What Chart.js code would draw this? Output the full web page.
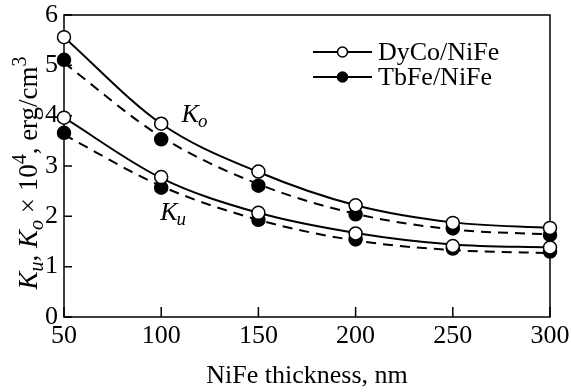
<!DOCTYPE html>
<html><head><meta charset="utf-8">
<script src="https://cdn.jsdelivr.net/npm/chart.js@4/dist/chart.umd.min.js"></script>
<style>html,body{margin:0;padding:0;background:#fff}#wrap{width:571px;height:392px;position:relative}canvas{display:block}</style>
</head><body><div id="wrap"><canvas id="c" width="571" height="392"></canvas></div>
<script>
// ---- data ----
const thickness = [50, 100, 150, 200, 250, 300];
const dyCoKo = [5.56, 3.84, 2.89, 2.22, 1.87, 1.77];
const tbFeKo = [5.11, 3.53, 2.61, 2.04, 1.76, 1.63];
const dyCoKu = [3.96, 2.78, 2.07, 1.66, 1.41, 1.38];
const tbFeKu = [3.66, 2.57, 1.93, 1.54, 1.36, 1.30];
// fitted curves (read at the same thicknesses)
const dyCoKoFit = [5.56, 3.84, 2.88, 2.22, 1.88, 1.77];
const tbFeKoFit = [5.05, 3.58, 2.64, 2.05, 1.74, 1.64];
const dyCoKuFit = [3.96, 2.76, 2.07, 1.67, 1.44, 1.38];
const tbFeKuFit = [3.62, 2.60, 1.93, 1.52, 1.33, 1.27];
const xTicks = [50, 100, 150, 200, 250, 300];
const yTicks = [0, 1, 2, 3, 4, 5, 6];
const seriesNames = ['DyCo/NiFe', 'TbFe/NiFe'];
const xTitle = 'NiFe thickness, nm';

const FONT = '"Liberation Serif", "Times New Roman", serif';
const pts = (ys) => thickness.map((x, i) => ({x, y: ys[i]}));

function markerSet(ys, filled) {
  return {data: pts(ys), showLine: false, pointRadius: 6.5, pointBorderWidth: 1.5,
    pointBorderColor: '#000', pointBackgroundColor: filled ? '#000' : '#fff',
    clip: false, order: 0};
}
function curveSet(ys, dashed) {
  return {data: pts(ys), showLine: true, pointRadius: 0, borderColor: '#000', borderWidth: 2,
    borderDash: dashed ? [10, 7] : [], cubicInterpolationMode: 'monotone', fill: false, order: 1};
}

const drawPlugin = {
  id: 'decor',
  beforeDatasetsDraw(chart) {
    const {ctx, chartArea: a, scales: {x, y}} = chart;
    ctx.save();
    ctx.strokeStyle = '#000'; ctx.lineWidth = 1.5;
    ctx.strokeRect(a.left, a.top, a.right - a.left, a.bottom - a.top);
    ctx.beginPath();
    xTicks.forEach(v => { const p = x.getPixelForValue(v); ctx.moveTo(p, a.bottom); ctx.lineTo(p, a.bottom - 10); });
    yTicks.forEach(v => { const p = y.getPixelForValue(v); ctx.moveTo(a.left, p); ctx.lineTo(a.left + 8, p); });
    ctx.stroke();
    ctx.restore();
  },
  afterDraw(chart) {
    const {ctx, scales: {x, y}} = chart;
    ctx.save();
    ctx.fillStyle = '#000';
    // curve labels
    const lab = (px, py, sub) => {
      ctx.textBaseline = 'alphabetic'; ctx.textAlign = 'left';
      ctx.font = 'italic 26px ' + FONT;
      ctx.fillText('K', px, py);
      const w = ctx.measureText('K').width;
      ctx.font = 'italic 19px ' + FONT;
      ctx.fillText(sub, px + w - 1, py + 5);
    };
    lab(x.getPixelForValue(110.5), y.getPixelForValue(3.87), 'o');
    lab(x.getPixelForValue(99.5), y.getPixelForValue(1.92), 'u');
    // legend
    const rows = [52, 77];
    rows.forEach((ly, i) => {
      ctx.strokeStyle = '#000'; ctx.lineWidth = 2;
      ctx.beginPath(); ctx.moveTo(313, ly); ctx.lineTo(372, ly); ctx.stroke();
      ctx.beginPath(); ctx.arc(342.5, ly, 5, 0, Math.PI * 2);
      ctx.fillStyle = i === 0 ? '#fff' : '#000'; ctx.fill();
      ctx.lineWidth = 1.5; ctx.stroke();
      ctx.fillStyle = '#000';
      ctx.font = '26px ' + FONT; ctx.textAlign = 'left'; ctx.textBaseline = 'alphabetic';
      ctx.fillText(seriesNames[i], 378, ly + 7.5);
    });
    // y title
    const segs = [
      {t: 'K', it: true}, {t: 'u', it: true, s: 0.75, dy: 6}, {t: ', ', it: false},
      {t: 'K', it: true}, {t: 'o', it: true, s: 0.75, dy: 6}, {t: ' \u00d7 10', it: false},
      {t: '4', it: false, s: 0.75, dy: -11}, {t: ', erg/cm', it: false}, {t: '3', it: false, s: 0.75, dy: -11}
    ];
    const fs = 27;
    const fontOf = sg => (sg.it ? 'italic ' : '') + Math.round(fs * (sg.s || 1)) + 'px ' + FONT;
    let total = 0;
    segs.forEach(sg => { ctx.font = fontOf(sg); sg.w = ctx.measureText(sg.t).width; total += sg.w; });
    ctx.translate(37, 173);
    ctx.rotate(-Math.PI / 2);
    let cx = -total / 2;
    ctx.textAlign = 'left'; ctx.textBaseline = 'alphabetic';
    segs.forEach(sg => { ctx.font = fontOf(sg); ctx.fillText(sg.t, cx, sg.dy || 0); cx += sg.w; });
    ctx.restore();
  }
};

new Chart(document.getElementById('c'), {
  type: 'line',
  data: {datasets: [
    markerSet(dyCoKo, false), markerSet(tbFeKo, true), markerSet(dyCoKu, false), markerSet(tbFeKu, true),
    curveSet(dyCoKoFit, false), curveSet(tbFeKoFit, true), curveSet(dyCoKuFit, false), curveSet(tbFeKuFit, true)
  ]},
  options: {
    responsive: false, animation: false, devicePixelRatio: 1,
    layout: {padding: {top: 15, right: 21, left: 0, bottom: 0}},
    plugins: {legend: {display: false}, tooltip: {enabled: false}},
    scales: {
      x: {type: 'linear', min: 50, max: 300,
        afterBuildTicks: s => { s.ticks = xTicks.map(v => ({value: v})); },
        afterFit: s => { s.height = 75; s.paddingLeft = 0; s.paddingRight = 0; },
        grid: {display: false, drawTicks: false}, border: {display: false},
        ticks: {color: '#000', font: {family: FONT, size: 26}, padding: 4, maxRotation: 0, autoSkip: false},
        title: {display: true, text: xTitle, color: '#000', font: {family: FONT, size: 26}, padding: {top: 0, bottom: 0}}
      },
      y: {type: 'linear', min: 0, max: 6,
        afterBuildTicks: s => { s.ticks = yTicks.map(v => ({value: v})); },
        afterFit: s => { s.width = 64; s.paddingTop = 0; s.paddingBottom = 0; },
        grid: {display: false, drawTicks: false}, border: {display: false},
        ticks: {color: '#000', font: {family: FONT, size: 26}, padding: 6}
      }
    }
  },
  plugins: [drawPlugin]
});
</script></body></html>
